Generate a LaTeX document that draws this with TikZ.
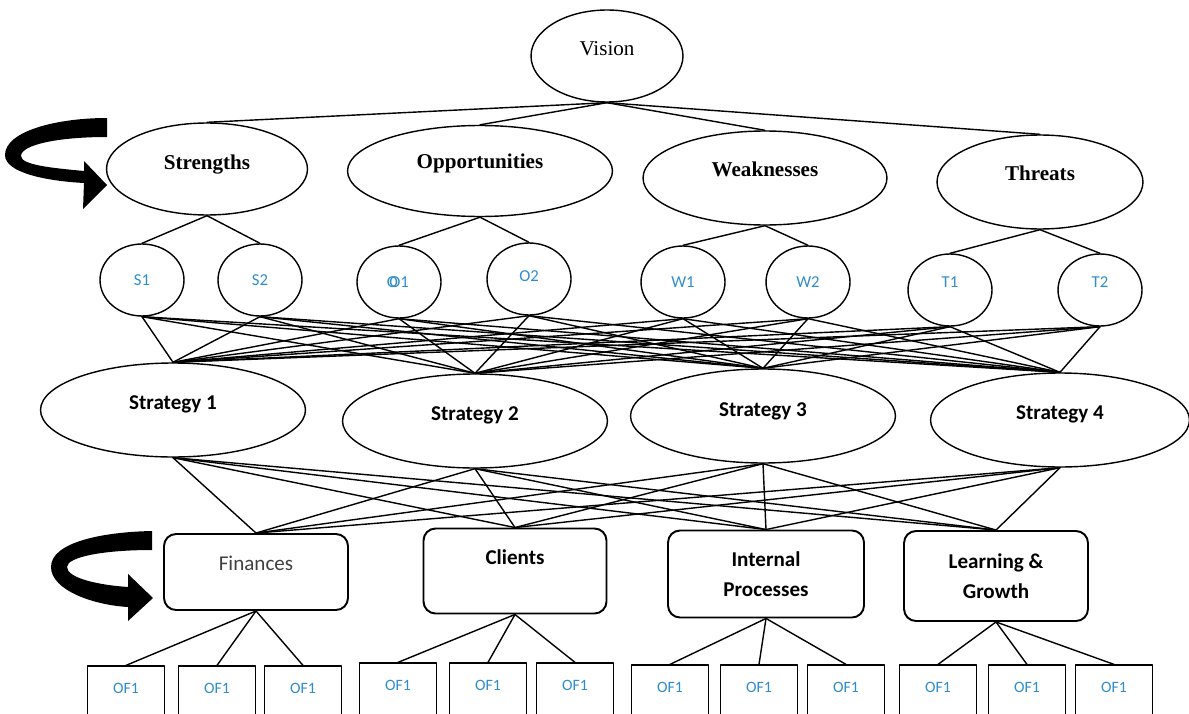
\documentclass[tikz,border=0pt]{standalone}
\usepackage{fontspec}
\setmainfont{Liberation Serif}
\newfontfamily\carlito{Carlito}
\usepackage{xcolor}
\usetikzlibrary{shapes.geometric}

\definecolor{itemblue}{RGB}{47,141,205}
\definecolor{fingray}{RGB}{64,64,64}

\begin{document}
\begin{tikzpicture}[
  x=0.02cm, y=-0.02cm,
  line cap=round,
  line join=round,
  every node/.style={inner sep=1pt},
  swot/.style={ellipse, draw, line width=0.8pt, font=\bfseries\fontsize{12}{14}\selectfont},
  item/.style={ellipse, draw, line width=0.8pt, minimum width=1.68cm, minimum height=1.44cm,
    font=\carlito\fontsize{9.5}{11}\selectfont, text=itemblue},
  strat/.style={ellipse, draw, line width=0.8pt, minimum width=5.3cm, minimum height=1.88cm,
    font=\carlito\bfseries\fontsize{12}{14}\selectfont},
  persp/.style={rectangle, rounded corners=0.24cm, draw, line width=1.1pt, align=center,
    font=\carlito\bfseries\fontsize{12}{17}\selectfont},
  goal/.style={rectangle, draw, line width=0.7pt, minimum width=1.54cm, minimum height=1.2cm,
    text depth=9pt, font=\carlito\fontsize{9}{11}\selectfont, text=itemblue},
  link/.style={line width=0.8pt}
]
  \clip (0,0) rectangle (1189,713);

  % Vision and SWOT
  \node[ellipse, draw, line width=0.8pt, minimum width=3.04cm, minimum height=1.84cm,
    text depth=9pt, font=\fontsize{12}{14}\selectfont] (vision) at (607,56) {Vision};
  \node[swot, minimum width=4.02cm, minimum height=1.84cm, text depth=8pt]  (str)  at (207,169)  {Strengths};
  \node[swot, minimum width=5.3cm,  minimum height=1.82cm, text depth=11pt] (opp)  at (480,171)  {Opportunities};
  \node[swot, minimum width=4.88cm, minimum height=1.88cm, text depth=10pt] (weak) at (765,178)  {Weaknesses};
  \node[swot, minimum width=4.12cm, minimum height=1.88cm, text depth=10pt] (thr)  at (1040,182) {Threats};

  % SWOT items
  \node[item] (s1) at (142,280) {S1};
  \node[item] (s2) at (260,280) {S2};
  \node[item] (o1) at (399,282) {\rlap{\kern-1.3pt O}O1};
  \node[item, text depth=3.4pt] (o2) at (529,279) {O2};
  \node[item] (w1) at (683,282) {W1};
  \node[item] (w2) at (808,282) {W2};
  \node[item, text depth=9pt] (t1) at (950,290)  {T1};
  \node[item, text depth=9pt] (t2) at (1100,290) {T2};

  % Strategies
  \node[strat, text depth=9pt] (st1) at (173,410)  {Strategy 1};
  \node[strat, text depth=9pt] (st2) at (475,421)  {Strategy 2};
  \node[strat, text depth=7pt] (st3) at (763,416)  {Strategy 3};
  \node[strat, text depth=8pt, minimum width=5.18cm] (st4) at (1060,420) {Strategy 4};

  % Perspectives
  \node[persp, minimum width=3.68cm, minimum height=1.52cm, text depth=10pt,
    font=\carlito\fontsize{12}{17}\selectfont, text=fingray] (fin) at (256,572) {Finances};
  \node[persp, minimum width=3.66cm, minimum height=1.7cm, text depth=16pt] (cli) at (515,571) {Clients};
  \node[persp, minimum width=3.92cm, minimum height=1.74cm] (ipr) at (766,574) {Internal\\Processes};
  \node[persp, minimum width=3.68cm, minimum height=1.8cm]  (lgr) at (996,576) {Learning \&\\Growth};

  % Objectives
  \node[goal] (of11) at (126,696)  {OF1};
  \node[goal] (of12) at (217,696)  {OF1};
  \node[goal] (of13) at (303,696)  {OF1};
  \node[goal] (of21) at (398,693)  {OF1};
  \node[goal] (of22) at (488,693)  {OF1};
  \node[goal] (of23) at (575,693)  {OF1};
  \node[goal] (of31) at (670,695)  {OF1};
  \node[goal] (of32) at (759,695)  {OF1};
  \node[goal] (of33) at (846,695)  {OF1};
  \node[goal] (of41) at (938,695)  {OF1};
  \node[goal] (of42) at (1027,695) {OF1};
  \node[goal] (of43) at (1114,695) {OF1};

  % Vision to SWOT
  \foreach \n in {str,opp,weak,thr}
    \draw[link] (vision.south) -- (\n.north);

  % SWOT to items
  \draw[link] (str.south) -- (s1.north);
  \draw[link] (str.south) -- (s2.north);
  \draw[link] (opp.south) -- (o1.north);
  \draw[link] (opp.south) -- (o2.north);
  \draw[link] (weak.south) -- (w1.north);
  \draw[link] (weak.south) -- (w2.north);
  \draw[link] (thr.south) -- (t1.north);
  \draw[link] (thr.south) -- (t2.north);

  % every item feeds every strategy
  \foreach \a in {s1,s2,o1,o2,w1,w2,t1,t2}
    \foreach \b in {st1,st2,st3,st4}
      \draw[link] (\a.south) -- (\b.north);

  % every strategy feeds every perspective
  \foreach \a in {st1,st2,st3,st4}
    \foreach \b in {fin,cli,ipr,lgr}
      \draw[link] (\a.south) -- (\b.north);

  % Perspectives to objectives
  \foreach \p/\k in {fin/1,cli/2,ipr/3,lgr/4}
    \foreach \j in {1,2,3}
      \draw[link] (\p.south) -- (of\k\j.north);

  % Curved arrows on the left
  \coordinate (tipA) at (107,185);
  \coordinate (tipB) at (153,598);
  \fill[shift={(tipA)}] (0,-67) .. controls (-50,-67) and (-102,-54) .. (-102,-30)
    .. controls (-102,-12) and (-60,-4) .. (-23,-2) -- (-24,24) -- (0,0) -- (-23,-24) -- (-23,-14)
    .. controls (-55,-17) and (-86,-20) .. (-86,-29) .. controls (-86,-40) and (-50,-48) .. (0,-48) -- cycle;
  \fill[shift={(tipB)}] (-1,-67) .. controls (-50,-66) and (-102,-56) .. (-102,-31)
    .. controls (-102,-8) and (-60,7) .. (-25,9) -- (-25,23) -- (0,0) -- (-25,-24) -- (-25,-11)
    .. controls (-55,-13) and (-86,-20) .. (-86,-31) .. controls (-86,-41) and (-50,-48) .. (-1,-48) -- cycle;
\end{tikzpicture}
\end{document}
